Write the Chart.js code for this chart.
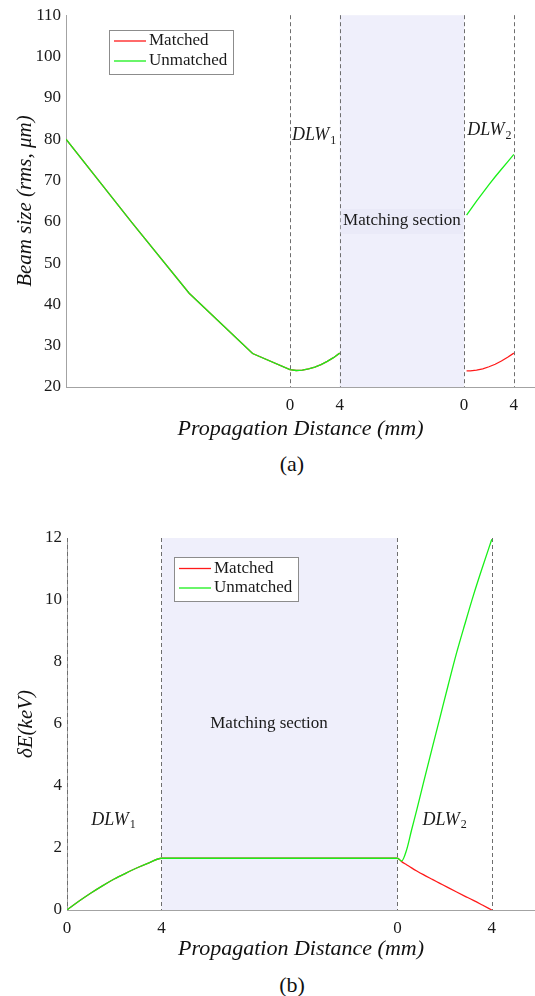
<!DOCTYPE html>
<html>
<head>
<meta charset="utf-8">
<script src="https://cdn.jsdelivr.net/npm/chart.js@4.4.0/dist/chart.umd.min.js"></script>
<style>
  body { margin: 0; background: #fff; }
  #wrap { position: relative; width: 535px; height: 996px; overflow: hidden; }
  canvas { position: absolute; left: 0; }
  .cap { position: absolute; left: 0; width: 584px; text-align: center;
         font: 22px "Liberation Serif", serif; line-height: 22px; color: #111; }
</style>
</head>
<body>
<div id="wrap">
  <canvas id="beamChart" width="535" height="450" style="top:0"></canvas>
  <div class="cap" style="top:453px">(a)</div>
  <canvas id="spreadChart" width="535" height="470" style="top:500px"></canvas>
  <div class="cap" style="top:974px">(b)</div>
</div>
<script>
// (a) beam size, rms in um. x: free drift + DLW1 (0..4), matching (4..14), DLW2 (14..18)
const beamDriftX = [-18, -12.7, -8.1, -3.0, 0, 0.5, 1, 1.5, 2, 2.5, 3, 3.5, 4];
const beamDriftSize = [80, 59.8, 42.7, 28.1, 24.2, 24.0, 24.1, 24.4, 24.8, 25.4, 26.2, 27.1, 28.2];
const beamDlw2X = [14.2, 14.5, 15, 15.5, 16, 16.5, 17, 17.5, 18];
const beamDlw2Matched = [23.9, 23.9, 24.1, 24.4, 24.9, 25.5, 26.3, 27.2, 28.2];
const beamDlw2Unmatched = [61.6, 62.9, 65.0, 67.0, 69.0, 70.9, 72.7, 74.5, 76.3];

// (b) energy spread in keV
const spreadDlw1X = [0, 0.5, 1, 1.5, 2, 2.5, 3, 3.5, 4];
const spreadDlw1 = [0, 0.28, 0.54, 0.78, 1.0, 1.19, 1.37, 1.53, 1.67];
const spreadMatchX = [14];
const spreadMatch = [1.67];
const spreadDlw2X = [14.18, 14.39, 14.6, 14.82, 15.1, 15.5, 15.8, 16.15, 16.51, 16.85, 17.22, 17.6, 18];
const spreadDlw2Matched = [1.56, 1.46, 1.36, 1.26, 1.14, 0.98, 0.86, 0.72, 0.58, 0.45, 0.31, 0.16, 0.0];
const spreadDlw2Unmatched = [1.58, 1.94, 2.58, 3.23, 4.09, 5.3, 6.2, 7.25, 8.3, 9.2, 10.15, 11.05, 11.96];

// axis ticks
const xTickPos = [0, 4, 14, 18];
const xTickLabels = ['0', '4', '0', '4'];

const serif = '"Liberation Serif", "Times New Roman", serif';
const red = '#ff1a1a';
const green = '#19f019';

function pts(xs, ys) {
    return xs.map((x, i) => ({ x: x, y: ys[i] }));
}
var gap = [{ x: 9, y: null }];

// shaded matching section, dashed section borders and text labels
const sectionPlugin = {
    id: 'sections',
    beforeDatasetsDraw(chart, args, opts) {
        const { ctx, chartArea: a, scales: { x, y } } = chart;
        ctx.save();
        var x0 = x.getPixelForValue(4), x1 = x.getPixelForValue(14);
        ctx.fillStyle = '#efeffb';
        ctx.fillRect(x0, a.top, x1 - x0, a.bottom - a.top);

        ctx.strokeStyle = '#6e6e6e';
        ctx.lineWidth = 1;
        ctx.setLineDash([4, 3]);
        opts.lines.forEach(function (v) {
            var px = Math.round(x.getPixelForValue(v)) + 0.5;
            ctx.beginPath();
            ctx.moveTo(px, a.top);
            ctx.lineTo(px, a.bottom);
            ctx.stroke();
        });
        ctx.setLineDash([]);

        ctx.fillStyle = '#1a1a1a';
        ctx.textBaseline = 'middle';
        opts.labels.forEach(function (l) {
            var cx = x.getPixelForValue(l.x), cy = y.getPixelForValue(l.y);
            if (l.sub) {
                ctx.font = 'italic 18px ' + serif;
                var w1 = ctx.measureText(l.text).width + 1;
                ctx.font = '12px ' + serif;
                var w2 = ctx.measureText(l.sub).width;
                var sx = cx - (w1 + w2) / 2;
                ctx.textAlign = 'left';
                ctx.font = 'italic 18px ' + serif;
                ctx.fillText(l.text, sx, cy);
                ctx.font = '12px ' + serif;
                ctx.fillText(l.sub, sx + w1, cy + 5);
            } else {
                ctx.font = '17px ' + serif;
                ctx.textAlign = 'center';
                if (l.box) {
                    ctx.fillStyle = '#eaeaf8';
                    ctx.fillRect(x0 + 1, cy - 12, x1 - x0 - 2, 25);
                    ctx.fillStyle = '#1a1a1a';
                }
                ctx.fillText(l.text, cx, cy);
            }
        });
        ctx.restore();
    }
};

// boxed legend inside the plot
const boxLegend = {
    id: 'boxLegend',
    afterDraw(chart, args, opts) {
        const ctx = chart.ctx;
        ctx.save();
        ctx.fillStyle = '#fff';
        ctx.fillRect(opts.x, opts.y, opts.w, opts.h);
        ctx.strokeStyle = '#8c8c8c';
        ctx.lineWidth = 1;
        ctx.strokeRect(opts.x + 0.5, opts.y + 0.5, opts.w, opts.h);
        ctx.font = '17px ' + serif;
        ctx.textBaseline = 'middle';
        ctx.textAlign = 'left';
        chart.data.datasets.forEach(function (ds, i) {
            var ly = opts.y + opts.first + i * opts.step;
            ctx.strokeStyle = ds.borderColor;
            ctx.lineWidth = 1.3;
            ctx.beginPath();
            ctx.moveTo(opts.x + 5, ly);
            ctx.lineTo(opts.x + 37, ly);
            ctx.stroke();
            ctx.fillStyle = '#1a1a1a';
            ctx.fillText(ds.label, opts.x + 40, ly);
        });
        ctx.restore();
    }
};

function xScale(min, max, axisHeight, titlePad) {
    return {
        type: 'linear',
        min: min,
        max: max,
        afterBuildTicks: function (axis) {
            axis.ticks = xTickPos.map(v => ({ value: v }));
        },
        afterFit: function (axis) { axis.height = axisHeight; },
        grid: { display: false, drawTicks: false },
        border: { color: '#a3a3a3', width: 1 },
        ticks: {
            autoSkip: false,
            maxRotation: 0,
            padding: 8,
            color: '#1a1a1a',
            font: { family: serif, size: 17 },
            callback: function (value) { return xTickLabels[xTickPos.indexOf(value)]; }
        },
        title: {
            display: true,
            text: 'Propagation Distance (mm)',
            color: '#111',
            font: { family: serif, size: 22, style: 'italic' },
            padding: { top: 0, bottom: titlePad }
        }
    };
}

function yScale(min, max, step, width, title, titlePad) {
    return {
        min: min,
        max: max,
        afterFit: function (axis) { axis.width = width; },
        grid: { display: false, drawTicks: false },
        border: { color: '#a3a3a3', width: 1 },
        ticks: {
            stepSize: step,
            padding: 5,
            color: '#1a1a1a',
            font: { family: serif, size: 17 }
        },
        title: {
            display: true,
            text: title,
            color: '#111',
            font: { family: serif, size: 21, style: 'italic' },
            padding: { top: titlePad, bottom: 0 }
        }
    };
}

var lineStyle = { borderWidth: 1.3, pointRadius: 0, fill: false, tension: 0 };
var smoothStyle = { borderWidth: 1.3, pointRadius: 0, fill: false, cubicInterpolationMode: 'monotone' };

new Chart(document.getElementById('beamChart').getContext('2d'), {
    type: 'line',
    data: {
        datasets: [
            Object.assign({
                label: 'Matched',
                data: pts(beamDriftX, beamDriftSize).concat(gap, pts(beamDlw2X, beamDlw2Matched)),
                borderColor: red,
                order: 1
            }, lineStyle),
            Object.assign({
                label: 'Unmatched',
                data: pts(beamDriftX, beamDriftSize).concat(gap, pts(beamDlw2X, beamDlw2Unmatched)),
                borderColor: green,
                order: 0
            }, lineStyle)
        ]
    },
    options: {
        responsive: false,
        animation: false,
        layout: { padding: { top: 14.5, left: 0, right: 0, bottom: 0 } },
        scales: {
            x: xScale(-18, 19.7, 63, 8),
            y: yScale(20, 110, 10, 66, 'Beam size (rms, \u03bcm)', 12.4)
        },
        plugins: {
            legend: { display: false },
            tooltip: { enabled: false },
            sections: {
                lines: [0, 4, 14, 18],
                labels: [
                    { text: 'DLW', sub: '1', x: 1.94, y: 80.9 },
                    { text: 'DLW', sub: '2', x: 16.03, y: 82.1 },
                    { text: 'Matching section', x: 9.0, y: 60.2, box: true }
                ]
            },
            boxLegend: { x: 109, y: 30, w: 124, h: 44, first: 11, step: 20 }
        }
    },
    plugins: [sectionPlugin, boxLegend]
});

new Chart(document.getElementById('spreadChart').getContext('2d'), {
    type: 'line',
    data: {
        datasets: [
            Object.assign({
                label: 'Matched',
                data: pts(spreadDlw1X, spreadDlw1).concat(pts(spreadMatchX, spreadMatch), pts(spreadDlw2X, spreadDlw2Matched)),
                borderColor: red,
                order: 1
            }, smoothStyle),
            Object.assign({
                label: 'Unmatched',
                data: pts(spreadDlw1X, spreadDlw1).concat(pts(spreadMatchX, spreadMatch), pts(spreadDlw2X, spreadDlw2Unmatched)),
                borderColor: green,
                order: 0
            }, smoothStyle)
        ]
    },
    options: {
        responsive: false,
        animation: false,
        layout: { padding: { top: 38, left: 0, right: 0, bottom: 0 } },
        scales: {
            x: xScale(0, 19.83, 60, 7.2),
            y: yScale(0, 12, 2, 67, '\u03b4E(keV)', 14)
        },
        plugins: {
            legend: { display: false },
            tooltip: { enabled: false },
            sections: {
                lines: [0, 4, 14, 18],
                labels: [
                    { text: 'DLW', sub: '1', x: 1.97, y: 2.9 },
                    { text: 'DLW', sub: '2', x: 16.0, y: 2.9 },
                    { text: 'Matching section', x: 8.56, y: 6.0 }
                ]
            },
            boxLegend: { x: 174, y: 57, w: 124, h: 44, first: 11.5, step: 19.5 }
        }
    },
    plugins: [sectionPlugin, boxLegend]
});
</script>
</body>
</html>
